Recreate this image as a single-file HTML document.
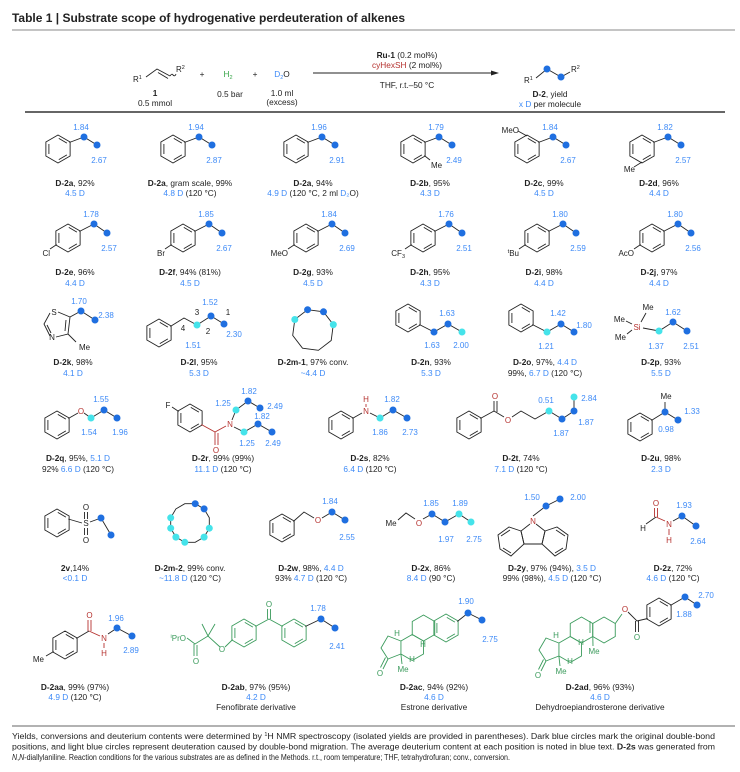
<!DOCTYPE html>
<html><head><meta charset="utf-8"><style>
html,body{margin:0;padding:0;background:#fff}
svg{display:block}
text{font-family:"Liberation Sans",Arial,sans-serif;font-size:8px;fill:#222}
.lb{text-anchor:middle;font-size:8.3px}
.bl{fill:#3d8af7}
.n{fill:#3d8af7;font-size:8px;text-anchor:middle}
.k{fill:#222}
.r{fill:#b5322f}
.g{fill:#3b9b5c}
.s{stroke:#222;stroke-width:.9;fill:none}
.sr{stroke:#b5322f;stroke-width:.9;fill:none}
.sg{stroke:#3b9b5c;stroke-width:.9;fill:none}
.d{fill:#1f6fe0}
.c{fill:#45e3ea}
</style></head><body>
<svg width="740" height="772" viewBox="0 0 740 772" xmlns="http://www.w3.org/2000/svg">
<defs>
<g id="bz" stroke="currentColor" stroke-width=".9" fill="none">
<polygon points="0,-14 12.12,-7 12.12,7 0,14 -12.12,7 -12.12,-7"/>
<line x1="0.8" y1="-10.6" x2="8.9" y2="-5.9"/><line x1="8.9" y1="5.9" x2="0.8" y2="10.6"/><line x1="-9.1" y1="5" x2="-9.1" y2="-5"/>
</g>
<g id="hx" stroke="currentColor" stroke-width=".9" fill="none">
<polygon points="0,-13 11.26,-6.5 11.26,6.5 0,13 -11.26,6.5 -11.26,-6.5"/>
</g>
</defs>

<!-- Title -->
<text x="12" y="22" style="font-size:11.5px;font-weight:bold" textLength="393" lengthAdjust="spacingAndGlyphs">Table 1 | Substrate scope of hydrogenative perdeuteration of alkenes</text>
<line x1="12" y1="30" x2="735" y2="30" stroke="#888" stroke-width="1"/>

<!-- Reaction -->
<text x="133" y="82">R<tspan dy="-3" font-size="5.5">1</tspan></text>
<polyline class="s" points="146,77 157,69 170,76"/>
<line class="s" x1="158" y1="72.5" x2="168" y2="78.5"/>
<path class="s" d="M170,76 q2,-3 3,-1 q2,2 3,-1"/>
<text x="176" y="72">R<tspan dy="-3" font-size="5.5">2</tspan></text>
<text x="155" y="96" class="lb" style="font-weight:bold">1</text>
<text x="155" y="106" class="lb">0.5 mmol</text>
<text x="202" y="77" class="lb">+</text>
<text x="228" y="77" class="lb" style="fill:#3aa64a">H<tspan dy="2" font-size="5.5">2</tspan></text>
<text x="230" y="97" class="lb">0.5 bar</text>
<text x="255" y="77" class="lb">+</text>
<text x="282" y="77" class="lb"><tspan class="bl">D<tspan dy="2" font-size="5.5">2</tspan></tspan><tspan dy="-2">O</tspan></text>
<text x="282" y="96" class="lb">1.0 ml</text>
<text x="282" y="105" class="lb">(excess)</text>
<line x1="313" y1="73" x2="494" y2="73" stroke="#222" stroke-width="1"/>
<polygon points="499,73 491,70.5 491,75.5" fill="#222"/>
<text x="407" y="58" class="lb"><tspan style="font-weight:bold">Ru-1</tspan> (0.2 mol%)</text>
<text x="407" y="68" class="lb"><tspan class="r">cyHexSH</tspan> (2 mol%)</text>
<text x="407" y="88" class="lb">THF, r.t.–50 °C</text>
<text x="524" y="83">R<tspan dy="-3" font-size="5.5">1</tspan></text>
<polyline class="s" points="536,78 547,69 561,77 570,72"/>
<circle class="d" cx="547" cy="69" r="3.5"/><circle class="d" cx="561" cy="77" r="3.5"/>
<text x="571" y="72">R<tspan dy="-3" font-size="5.5">2</tspan></text>
<text x="550" y="97" class="lb"><tspan style="font-weight:bold">D-2</tspan>, yield</text>
<text x="550" y="107" class="lb"><tspan class="bl">x D</tspan> per molecule</text>
<line x1="25" y1="112" x2="725" y2="112" stroke="#333" stroke-width="1.5"/>

<!-- Row 1 -->
<g color="#222">
<use href="#bz" x="58" y="149"/><use href="#bz" x="173" y="149"/><use href="#bz" x="296" y="149"/>
<use href="#bz" x="413" y="149"/><use href="#bz" x="527" y="149"/><use href="#bz" x="642" y="149"/>
</g>
<g class="s">
<polyline points="69.3,142.5 84,137 97,145"/><polyline points="184.3,142.5 199,137 212,145"/>
<polyline points="307.3,142.5 322,137 335,145"/><polyline points="424.3,142.5 439,137 452,145"/>
<polyline points="538.3,142.5 553,137 566,145"/><polyline points="653.3,142.5 668,137 681,145"/>
<line x1="424.3" y1="155.5" x2="430" y2="160"/>
<line x1="527" y1="136" x2="518" y2="131"/>
<line x1="642" y1="162" x2="634" y2="167"/>
</g>
<text x="431" y="168" font-size="7.5">Me</text>
<text x="519" y="133" text-anchor="end" font-size="7.5">MeO</text>
<text x="635" y="172" text-anchor="end" font-size="7.5">Me</text>
<g>
<circle class="d" cx="84" cy="137" r="3.5"/><circle class="d" cx="97" cy="145" r="3.5"/>
<circle class="d" cx="199" cy="137" r="3.5"/><circle class="d" cx="212" cy="145" r="3.5"/>
<circle class="d" cx="322" cy="137" r="3.5"/><circle class="d" cx="335" cy="145" r="3.5"/>
<circle class="d" cx="439" cy="137" r="3.5"/><circle class="d" cx="452" cy="145" r="3.5"/>
<circle class="d" cx="553" cy="137" r="3.5"/><circle class="d" cx="566" cy="145" r="3.5"/>
<circle class="d" cx="668" cy="137" r="3.5"/><circle class="d" cx="681" cy="145" r="3.5"/>
</g>
<text class="n" x="81" y="130">1.84</text><text class="n" x="99" y="163">2.67</text>
<text class="n" x="196" y="130">1.94</text><text class="n" x="214" y="163">2.87</text>
<text class="n" x="319" y="130">1.96</text><text class="n" x="337" y="163">2.91</text>
<text class="n" x="436" y="130">1.79</text><text class="n" x="454" y="163">2.49</text>
<text class="n" x="550" y="130">1.84</text><text class="n" x="568" y="163">2.67</text>
<text class="n" x="665" y="130">1.82</text><text class="n" x="683" y="163">2.57</text>

<text class="lb" x="75" y="186"><tspan font-weight="bold">D-2a</tspan>, 92%</text><text class="lb bl" x="75" y="196">4.5 D</text>
<text class="lb" x="190" y="186"><tspan font-weight="bold">D-2a</tspan>, gram scale, 99%</text><text class="lb" x="190" y="196"><tspan class="bl">4.8 D</tspan> (120 °C)</text>
<text class="lb" x="313" y="186"><tspan font-weight="bold">D-2a</tspan>, 94%</text><text class="lb" x="313" y="196"><tspan class="bl">4.9 D</tspan> (120 °C, 2 ml <tspan class="bl">D₂</tspan>O)</text>
<text class="lb" x="430" y="186"><tspan font-weight="bold">D-2b</tspan>, 95%</text><text class="lb bl" x="430" y="196">4.3 D</text>
<text class="lb" x="544" y="186"><tspan font-weight="bold">D-2c</tspan>, 99%</text><text class="lb bl" x="544" y="196">4.5 D</text>
<text class="lb" x="659" y="186"><tspan font-weight="bold">D-2d</tspan>, 96%</text><text class="lb bl" x="659" y="196">4.4 D</text>

<!-- Row 2 -->
<g color="#222">
<use href="#bz" x="68" y="238"/><use href="#bz" x="183" y="238"/><use href="#bz" x="306" y="238"/>
<use href="#bz" x="423" y="238"/><use href="#bz" x="537" y="238"/><use href="#bz" x="652" y="238"/>
</g>
<g class="s">
<polyline points="79.3,231.5 94,224 107,233"/><polyline points="194.3,231.5 209,224 222,233"/>
<polyline points="317.3,231.5 332,224 345,233"/><polyline points="434.3,231.5 449,224 462,233"/>
<polyline points="548.3,231.5 563,224 576,233"/><polyline points="663.3,231.5 678,224 691,233"/>
<line x1="56.7" y1="244.5" x2="50" y2="249"/><line x1="171.7" y1="244.5" x2="165" y2="249"/>
<line x1="294.7" y1="244.5" x2="288" y2="249"/><line x1="411.7" y1="244.5" x2="405" y2="249"/>
<line x1="525.7" y1="244.5" x2="519" y2="249"/><line x1="640.7" y1="244.5" x2="634" y2="249"/>
</g>
<text x="50" y="256" text-anchor="end" font-size="7.5">Cl</text>
<text x="165" y="256" text-anchor="end" font-size="7.5">Br</text>
<text x="288" y="256" text-anchor="end" font-size="7.5">MeO</text>
<text x="405" y="256" text-anchor="end" font-size="7.5">CF<tspan dy="2" font-size="5.5">3</tspan></text>
<text x="519" y="256" text-anchor="end" font-size="7.5"><tspan dy="-3" font-size="5.5">t</tspan><tspan dy="3">Bu</tspan></text>
<text x="634" y="256" text-anchor="end" font-size="7.5">AcO</text>
<g>
<circle class="d" cx="94" cy="224" r="3.5"/><circle class="d" cx="107" cy="233" r="3.5"/>
<circle class="d" cx="209" cy="224" r="3.5"/><circle class="d" cx="222" cy="233" r="3.5"/>
<circle class="d" cx="332" cy="224" r="3.5"/><circle class="d" cx="345" cy="233" r="3.5"/>
<circle class="d" cx="449" cy="224" r="3.5"/><circle class="d" cx="462" cy="233" r="3.5"/>
<circle class="d" cx="563" cy="224" r="3.5"/><circle class="d" cx="576" cy="233" r="3.5"/>
<circle class="d" cx="678" cy="224" r="3.5"/><circle class="d" cx="691" cy="233" r="3.5"/>
</g>
<text class="n" x="91" y="217">1.78</text><text class="n" x="109" y="251">2.57</text>
<text class="n" x="206" y="217">1.85</text><text class="n" x="224" y="251">2.67</text>
<text class="n" x="329" y="217">1.84</text><text class="n" x="347" y="251">2.69</text>
<text class="n" x="446" y="217">1.76</text><text class="n" x="464" y="251">2.51</text>
<text class="n" x="560" y="217">1.80</text><text class="n" x="578" y="251">2.59</text>
<text class="n" x="675" y="217">1.80</text><text class="n" x="693" y="251">2.56</text>

<text class="lb" x="75" y="275"><tspan font-weight="bold">D-2e</tspan>, 96%</text><text class="lb bl" x="75" y="286">4.4 D</text>
<text class="lb" x="190" y="275"><tspan font-weight="bold">D-2f</tspan>, 94% (81%)</text><text class="lb bl" x="190" y="286">4.5 D</text>
<text class="lb" x="313" y="275"><tspan font-weight="bold">D-2g</tspan>, 93%</text><text class="lb bl" x="313" y="286">4.5 D</text>
<text class="lb" x="430" y="275"><tspan font-weight="bold">D-2h</tspan>, 95%</text><text class="lb bl" x="430" y="286">4.3 D</text>
<text class="lb" x="544" y="275"><tspan font-weight="bold">D-2i</tspan>, 98%</text><text class="lb bl" x="544" y="286">4.4 D</text>
<text class="lb" x="659" y="275"><tspan font-weight="bold">D-2j</tspan>, 97%</text><text class="lb bl" x="659" y="286">4.4 D</text>

<!-- Row 3 -->
<g class="s">
<polyline points="58,312 70,317 68,334 56,337"/>
<polyline points="50,336 44,324 50,313"/>
<line x1="66" y1="320" x2="65" y2="331"/>
<line x1="47" y1="325" x2="51" y2="333"/>
<line x1="68" y1="334" x2="76" y2="342"/>
<polyline points="70,317 81,311 95,320"/>
</g>
<text x="54" y="315" text-anchor="middle" font-size="7.5">S</text>
<text x="52" y="340" text-anchor="middle" font-size="7.5">N</text>
<text x="79" y="350" font-size="7.5">Me</text>
<circle class="d" cx="81" cy="311" r="3.5"/><circle class="d" cx="95" cy="320" r="3.5"/>
<text class="n" x="79" y="304">1.70</text><text class="n" x="106" y="318">2.38</text>
<use href="#bz" x="159" y="333" color="#222"/>
<polyline class="s" points="170.3,326.5 184,318 197,325 211,316 224,324"/>
<circle class="c" cx="197" cy="325" r="3.5"/><circle class="d" cx="211" cy="316" r="3.5"/><circle class="d" cx="224" cy="324" r="3.5"/>
<text x="183" y="331" text-anchor="middle" font-size="7.5">4</text>
<text x="197" y="315" text-anchor="middle" font-size="7.5">3</text>
<text x="208" y="334" text-anchor="middle" font-size="7.5">2</text>
<text x="228" y="315" text-anchor="middle" font-size="7.5">1</text>
<text class="n" x="210" y="305">1.52</text><text class="n" x="193" y="348">1.51</text><text class="n" x="234" y="337">2.30</text>
<polygon class="s" points="294.8,319.5 307.6,309.7 323.5,311.8 333.3,324.6 331.2,340.5 318.4,350.3 302.5,348.2 292.7,335.4"/>
<circle class="c" cx="294.8" cy="319.5" r="3.5"/><circle class="d" cx="307.6" cy="309.7" r="3.5"/><circle class="d" cx="323.5" cy="311.8" r="3.5"/><circle class="c" cx="333.3" cy="324.6" r="3.5"/>
<use href="#bz" x="408" y="318" color="#222"/>
<polyline class="s" points="419.3,324.5 434,332 448,324 462,332"/>
<circle class="d" cx="434" cy="332" r="3.5"/><circle class="d" cx="448" cy="324" r="3.5"/><circle class="c" cx="462" cy="332" r="3.5"/>
<text class="n" x="447" y="316">1.63</text><text class="n" x="432" y="348">1.63</text><text class="n" x="461" y="348">2.00</text>
<use href="#bz" x="521" y="318" color="#222"/>
<polyline class="s" points="532.3,324.5 547,332 561,324 574,332"/>
<circle class="c" cx="547" cy="332" r="3.5"/><circle class="d" cx="561" cy="324" r="3.5"/><circle class="d" cx="574" cy="332" r="3.5"/>
<text class="n" x="558" y="316">1.42</text><text class="n" x="584" y="328">1.80</text><text class="n" x="546" y="349">1.21</text>
<g class="s"><line x1="641" y1="322" x2="646" y2="313"/><line x1="632" y1="324" x2="626" y2="321"/><line x1="632" y1="330" x2="627" y2="334"/>
<polyline points="643,328 659,331 673,322 687,331"/></g>
<text x="637" y="330" text-anchor="middle" class="r" font-size="7.5">Si</text>
<text x="648" y="310" text-anchor="middle" font-size="7.5">Me</text>
<text x="625" y="322" text-anchor="end" font-size="7.5">Me</text>
<text x="626" y="340" text-anchor="end" font-size="7.5">Me</text>
<circle class="c" cx="659" cy="331" r="3.5"/><circle class="d" cx="673" cy="322" r="3.5"/><circle class="d" cx="687" cy="331" r="3.5"/>
<text class="n" x="673" y="315">1.62</text><text class="n" x="656" y="349">1.37</text><text class="n" x="691" y="349">2.51</text>

<text class="lb" x="73" y="365"><tspan font-weight="bold">D-2k</tspan>, 98%</text><text class="lb bl" x="73" y="376">4.1 D</text>
<text class="lb" x="199" y="365"><tspan font-weight="bold">D-2l</tspan>, 95%</text><text class="lb bl" x="199" y="376">5.3 D</text>
<text class="lb" x="313" y="365"><tspan font-weight="bold">D-2m-1</tspan>, 97% conv.</text><text class="lb bl" x="313" y="376">~4.4 D</text>
<text class="lb" x="431" y="365"><tspan font-weight="bold">D-2n</tspan>, 93%</text><text class="lb bl" x="431" y="376">5.3 D</text>
<text class="lb" x="545" y="365"><tspan font-weight="bold">D-2o</tspan>, 97%, <tspan class="bl">4.4 D</tspan></text><text class="lb" x="545" y="376">99%, <tspan class="bl">6.7 D</tspan> (120 °C)</text>
<text class="lb" x="661" y="365"><tspan font-weight="bold">D-2p</tspan>, 93%</text><text class="lb bl" x="661" y="376">5.5 D</text>

<!-- Row 4 -->
<use href="#bz" x="57" y="425" color="#222"/>
<polyline class="s" points="68.3,418.5 78,413"/><polyline class="s" points="84,413 91,418 104,410 117,418"/>
<text x="81" y="414" text-anchor="middle" class="r" font-size="7.5">O</text>
<circle class="c" cx="91" cy="418" r="3.5"/><circle class="d" cx="104" cy="410" r="3.5"/><circle class="d" cx="117" cy="418" r="3.5"/>
<text class="n" x="101" y="402">1.55</text><text class="n" x="89" y="435">1.54</text><text class="n" x="120" y="435">1.96</text>
<use href="#bz" x="190" y="418" color="#222"/>
<line class="s" x1="178.7" y1="411.5" x2="172" y2="407"/>
<text x="168" y="408" text-anchor="middle" font-size="7.5">F</text>
<polyline class="sr" points="201.3,424.5 215,432 226,426"/>
<line class="sr" x1="215" y1="432" x2="215" y2="445"/><line class="sr" x1="218" y1="433" x2="218" y2="445"/>
<text x="216" y="453" text-anchor="middle" class="r" font-size="7.5">O</text>
<text x="230" y="427" text-anchor="middle" class="r" font-size="7.5">N</text>
<polyline class="s" points="232,420 236,410 248,401 260,408"/>
<polyline class="s" points="234,427 244,432 258,424 272,432"/>
<circle class="c" cx="236" cy="410" r="3.5"/><circle class="d" cx="248" cy="401" r="3.5"/><circle class="d" cx="260" cy="408" r="3.5"/>
<circle class="c" cx="244" cy="432" r="3.5"/><circle class="d" cx="258" cy="424" r="3.5"/><circle class="d" cx="272" cy="432" r="3.5"/>
<text class="n" x="249" y="394">1.82</text><text class="n" x="223" y="406">1.25</text><text class="n" x="275" y="409">2.49</text>
<text class="n" x="262" y="419">1.82</text><text class="n" x="247" y="446">1.25</text><text class="n" x="273" y="446">2.49</text>
<use href="#bz" x="341" y="425" color="#222"/>
<line class="s" x1="352.3" y1="418.5" x2="362" y2="413"/>
<text x="366" y="414" text-anchor="middle" class="r" font-size="7.5">N</text>
<text x="366" y="402" text-anchor="middle" class="r" font-size="7.5">H</text>
<line class="sr" x1="366" y1="404" x2="366" y2="407"/>
<polyline class="s" points="370,413 380,418 393,410 407,418"/>
<circle class="c" cx="380" cy="418" r="3.5"/><circle class="d" cx="393" cy="410" r="3.5"/><circle class="d" cx="407" cy="418" r="3.5"/>
<text class="n" x="392" y="402">1.82</text><text class="n" x="380" y="435">1.86</text><text class="n" x="410" y="435">2.73</text>
<use href="#bz" x="469" y="425" color="#222"/>
<polyline class="s" points="480.3,418.5 494,411 504,417"/>
<line class="s" x1="494" y1="411" x2="494" y2="401"/><line class="s" x1="497" y1="412" x2="497" y2="401"/>
<text x="495" y="399" text-anchor="middle" class="r" font-size="7.5">O</text>
<text x="508" y="423" text-anchor="middle" class="r" font-size="7.5">O</text>
<polyline class="s" points="512,417 521,411 535,419 549,411 562,419 574,411 574,397"/>
<circle class="c" cx="549" cy="411" r="3.5"/><circle class="d" cx="562" cy="419" r="3.5"/><circle class="d" cx="574" cy="411" r="3.5"/><circle class="c" cx="574" cy="397" r="3.5"/>
<text class="n" x="546" y="403">0.51</text><text class="n" x="589" y="401">2.84</text><text class="n" x="586" y="425">1.87</text><text class="n" x="561" y="436">1.87</text>
<use href="#bz" x="640" y="427" color="#222"/>
<polyline class="s" points="651.3,420.5 665,412 678,420"/>
<line class="s" x1="665" y1="412" x2="665" y2="402"/>
<text x="666" y="399" text-anchor="middle" font-size="7.5">Me</text>
<circle class="d" cx="665" cy="412" r="3.5"/><circle class="d" cx="678" cy="420" r="3.5"/>
<text class="n" x="692" y="414">1.33</text><text class="n" x="666" y="432">0.98</text>

<text class="lb" x="78" y="461"><tspan font-weight="bold">D-2q</tspan>, 95%, <tspan class="bl">5.1 D</tspan></text><text class="lb" x="78" y="472">92% <tspan class="bl">6.6 D</tspan> (120 °C)</text>
<text class="lb" x="223" y="461"><tspan font-weight="bold">D-2r</tspan>, 99% (99%)</text><text class="lb" x="223" y="472"><tspan class="bl">11.1 D</tspan> (120 °C)</text>
<text class="lb" x="370" y="461"><tspan font-weight="bold">D-2s</tspan>, 82%</text><text class="lb" x="370" y="472"><tspan class="bl">6.4 D</tspan> (120 °C)</text>
<text class="lb" x="521" y="461"><tspan font-weight="bold">D-2t</tspan>, 74%</text><text class="lb" x="521" y="472"><tspan class="bl">7.1 D</tspan> (120 °C)</text>
<text class="lb" x="661" y="461"><tspan font-weight="bold">D-2u</tspan>, 98%</text><text class="lb bl" x="661" y="472">2.3 D</text>

<!-- Row 5 -->
<use href="#bz" x="57" y="523" color="#222"/>
<line class="s" x1="68.3" y1="519" x2="82" y2="523"/>
<text x="86" y="526" text-anchor="middle" font-size="7.5">S</text>
<line class="s" x1="84.5" y1="519" x2="84.5" y2="512"/><line class="s" x1="87.5" y1="519" x2="87.5" y2="512"/>
<line class="s" x1="84.5" y1="528" x2="84.5" y2="535"/><line class="s" x1="87.5" y1="528" x2="87.5" y2="535"/>
<text x="86" y="510" text-anchor="middle" font-size="7.5">O</text>
<text x="86" y="543" text-anchor="middle" font-size="7.5">O</text>
<polyline class="s" points="90,522 101,518 111,535"/>
<circle class="d" cx="101" cy="518" r="3.5"/><circle class="d" cx="111" cy="535" r="3.5"/>
<polygon class="s" points="195.2,503.7 204.1,508.9 209.3,517.8 209.3,528.2 204.1,537.1 195.2,542.3 184.8,542.3 175.9,537.1 170.7,528.2 170.7,517.8 175.9,508.9 184.8,503.7"/>
<circle class="d" cx="195.2" cy="503.7" r="3.5"/><circle class="d" cx="204.1" cy="508.9" r="3.5"/>
<circle class="c" cx="209.3" cy="528.2" r="3.5"/><circle class="c" cx="204.1" cy="537.1" r="3.5"/>
<circle class="c" cx="184.8" cy="542.3" r="3.5"/><circle class="c" cx="175.9" cy="537.1" r="3.5"/>
<circle class="c" cx="170.7" cy="528.2" r="3.5"/><circle class="c" cx="170.7" cy="517.8" r="3.5"/>
<use href="#bz" x="282" y="528" color="#222"/>
<polyline class="s" points="293.3,521.5 304,512 314,518"/>
<text x="318" y="523" text-anchor="middle" class="r" font-size="7.5">O</text>
<polyline class="s" points="322,518 332,512 345,520"/>
<circle class="d" cx="332" cy="512" r="3.5"/><circle class="d" cx="345" cy="520" r="3.5"/>
<text class="n" x="330" y="504">1.84</text><text class="n" x="347" y="540">2.55</text>
<text x="391" y="526" text-anchor="middle" font-size="7.5">Me</text>
<polyline class="s" points="398,520 406,513 415,519"/>
<text x="419" y="526" text-anchor="middle" class="r" font-size="7.5">O</text>
<polyline class="s" points="423,519 432,514 445,522 459,514 471,522"/>
<circle class="d" cx="432" cy="514" r="3.5"/><circle class="d" cx="445" cy="522" r="3.5"/><circle class="c" cx="459" cy="514" r="3.5"/><circle class="c" cx="471" cy="522" r="3.5"/>
<text class="n" x="431" y="506">1.85</text><text class="n" x="460" y="506">1.89</text><text class="n" x="446" y="542">1.97</text><text class="n" x="474" y="542">2.75</text>
<g class="s">
<polyline points="536,524 545,531 542,544"/><polyline points="530,524 521,531 524,544"/>
<line x1="524" y1="544" x2="542" y2="544"/>
<polygon points="521,531 509,527 498,535 500,549 511,556 524,544"/>
<polygon points="545,531 557,527 568,535 566,549 555,556 542,544"/>
<line x1="510" y1="530" x2="501" y2="536"/><line x1="503" y1="548" x2="511" y2="553"/>
<line x1="556" y1="530" x2="565" y2="536"/><line x1="563" y1="548" x2="555" y2="553"/>
<polyline points="533,516 546,506 560,499"/>
</g>
<text x="533" y="524" text-anchor="middle" class="r" font-size="7.5">N</text>
<circle class="d" cx="546" cy="506" r="3.5"/><circle class="d" cx="560" cy="499" r="3.5"/>
<text class="n" x="532" y="500">1.50</text><text class="n" x="578" y="500">2.00</text>
<text x="656" y="506" text-anchor="middle" class="r" font-size="7.5">O</text>
<line class="sr" x1="654.5" y1="508" x2="654.5" y2="517"/><line class="sr" x1="657.5" y1="508" x2="657.5" y2="517"/>
<line class="s" x1="656" y1="517" x2="646" y2="524"/>
<text x="643" y="531" text-anchor="middle" font-size="7.5">H</text>
<line class="sr" x1="656" y1="517" x2="665" y2="521"/>
<text x="669" y="527" text-anchor="middle" class="r" font-size="7.5">N</text>
<line class="sr" x1="669" y1="529" x2="669" y2="535"/>
<text x="669" y="543" text-anchor="middle" class="r" font-size="7.5">H</text>
<polyline class="s" points="673,521 682,516 696,526"/>
<circle class="d" cx="682" cy="516" r="3.5"/><circle class="d" cx="696" cy="526" r="3.5"/>
<text class="n" x="684" y="508">1.93</text><text class="n" x="698" y="544">2.64</text>

<text class="lb" x="75" y="571"><tspan font-weight="bold">2v</tspan>,14%</text><text class="lb bl" x="75" y="581">&lt;0.1 D</text>
<text class="lb" x="190" y="571"><tspan font-weight="bold">D-2m-2</tspan>, 99% conv.</text><text class="lb" x="190" y="581"><tspan class="bl">~11.8 D</tspan> (120 °C)</text>
<text class="lb" x="311" y="571"><tspan font-weight="bold">D-2w</tspan>, 98%, <tspan class="bl">4.4 D</tspan></text><text class="lb" x="311" y="581">93% <tspan class="bl">4.7 D</tspan> (120 °C)</text>
<text class="lb" x="431" y="571"><tspan font-weight="bold">D-2x</tspan>, 86%</text><text class="lb" x="431" y="581"><tspan class="bl">8.4 D</tspan> (90 °C)</text>
<text class="lb" x="552" y="571"><tspan font-weight="bold">D-2y</tspan>, 97% (94%), <tspan class="bl">3.5 D</tspan></text><text class="lb" x="552" y="581">99% (98%), <tspan class="bl">4.5 D</tspan> (120 °C)</text>
<text class="lb" x="673" y="571"><tspan font-weight="bold">D-2z</tspan>, 72%</text><text class="lb" x="673" y="581"><tspan class="bl">4.6 D</tspan> (120 °C)</text>

<!-- Row 6 -->
<use href="#bz" x="65" y="645" color="#222"/>
<line class="s" x1="53.7" y1="651.5" x2="46" y2="656"/>
<text x="44" y="662" text-anchor="end" font-size="7.5">Me</text>
<line class="s" x1="76.3" y1="638.5" x2="89" y2="631"/>
<line class="sr" x1="88" y1="631" x2="88" y2="620"/><line class="sr" x1="91" y1="631" x2="91" y2="620"/>
<text x="89.5" y="618" text-anchor="middle" class="r" font-size="7.5">O</text>
<line class="sr" x1="89" y1="631" x2="100" y2="636"/>
<text x="104" y="641" text-anchor="middle" class="r" font-size="7.5">N</text>
<line class="sr" x1="104" y1="643" x2="104" y2="648"/>
<text x="104" y="656" text-anchor="middle" class="r" font-size="7.5">H</text>
<polyline class="s" points="108,634 117,628 132,636"/>
<circle class="d" cx="117" cy="628" r="3.5"/><circle class="d" cx="132" cy="636" r="3.5"/>
<text class="n" x="116" y="621">1.96</text><text class="n" x="131" y="653">2.89</text>
<text x="186" y="641" text-anchor="end" class="g" font-size="7.5"><tspan dy="-3" font-size="5.5">i</tspan><tspan dy="3">PrO</tspan></text>
<g class="sg">
<polyline points="187,638 195,644 208,636 220,647"/>
<line x1="194" y1="644" x2="194" y2="656"/><line x1="197" y1="645" x2="197" y2="656"/>
<line x1="208" y1="636" x2="202" y2="624"/><line x1="208" y1="636" x2="215" y2="624"/>
<line x1="225" y1="647" x2="232.7" y2="639.5"/>
<polyline points="255.3,626.5 269,619 282.7,626.5"/>
<line x1="267.5" y1="619" x2="267.5" y2="609"/><line x1="270.5" y1="619" x2="270.5" y2="609"/>
</g>
<text x="196" y="664" text-anchor="middle" class="g" font-size="7.5">O</text>
<text x="222" y="652" text-anchor="middle" class="g" font-size="7.5">O</text>
<text x="269" y="607" text-anchor="middle" class="g" font-size="7.5">O</text>
<use href="#bz" x="244" y="633" color="#3b9b5c"/>
<use href="#bz" x="294" y="633" color="#3b9b5c"/>
<polyline class="s" points="305.3,626.5 321,619 335,628"/>
<circle class="d" cx="321" cy="619" r="3.5"/><circle class="d" cx="335" cy="628" r="3.5"/>
<text class="n" x="318" y="611">1.78</text><text class="n" x="337" y="649">2.41</text>
<use href="#bz" x="446" y="628" color="#3b9b5c"/>
<use href="#hx" x="423.5" y="628" color="#3b9b5c"/>
<use href="#hx" x="412.2" y="647.5" color="#3b9b5c"/>
<g class="sg">
<polyline points="400.9,641 388,636 381,648 388,659 400.9,654"/>
<line x1="388" y1="659" x2="383" y2="669"/><line x1="385.5" y1="657.5" x2="380.5" y2="667.5"/>
<line x1="400.9" y1="654" x2="402" y2="664"/>
</g>
<text x="380" y="676" text-anchor="middle" class="g" font-size="7.5">O</text>
<text x="403" y="672" text-anchor="middle" class="g" font-size="7">Me</text>
<text x="397" y="636" text-anchor="middle" class="g" font-size="7">H</text>
<text x="423" y="647" text-anchor="middle" class="g" font-size="7">H</text>
<text x="412" y="662" text-anchor="middle" class="g" font-size="7">H</text>
<polyline class="s" points="457.3,621.5 468,613 482,620"/>
<circle class="d" cx="468" cy="613" r="3.5"/><circle class="d" cx="482" cy="620" r="3.5"/>
<text class="n" x="466" y="604">1.90</text><text class="n" x="490" y="642">2.75</text>
<use href="#hx" x="604" y="630" color="#3b9b5c"/>
<use href="#hx" x="581.5" y="630" color="#3b9b5c"/>
<use href="#hx" x="570.2" y="649.5" color="#3b9b5c"/>
<g class="sg">
<line x1="590" y1="621" x2="590" y2="633"/>
<polyline points="558.9,643 546,638 539,650 546,661 558.9,656"/>
<line x1="546" y1="661" x2="541" y2="671"/><line x1="543.5" y1="659.5" x2="538.5" y2="669.5"/>
<line x1="558.9" y1="656" x2="560" y2="666"/>
<line x1="592.8" y1="636.5" x2="593" y2="646"/>
<line x1="615.3" y1="623.5" x2="622" y2="614"/>
</g>
<text x="538" y="678" text-anchor="middle" class="g" font-size="7.5">O</text>
<text x="561" y="674" text-anchor="middle" class="g" font-size="7">Me</text>
<text x="594" y="654" text-anchor="middle" class="g" font-size="7">Me</text>
<text x="556" y="638" text-anchor="middle" class="g" font-size="7">H</text>
<text x="581" y="645" text-anchor="middle" class="g" font-size="7">H</text>
<text x="570" y="664" text-anchor="middle" class="g" font-size="7">H</text>
<text x="625" y="612" text-anchor="middle" class="r" font-size="7.5">O</text>
<g class="s">
<polyline points="628,612 637,621 647.7,618.5"/>
<line x1="635.5" y1="621" x2="635.5" y2="632"/><line x1="638.5" y1="621" x2="638.5" y2="632"/>
<polyline points="670.3,605.5 685,597 697,605"/>
</g>
<text x="637" y="640" text-anchor="middle" class="g" font-size="7.5">O</text>
<use href="#bz" x="659" y="612" color="#222"/>
<circle class="d" cx="685" cy="597" r="3.5"/><circle class="d" cx="697" cy="605" r="3.5"/>
<text class="n" x="706" y="598">2.70</text><text class="n" x="684" y="617">1.88</text>

<text class="lb" x="75" y="690"><tspan font-weight="bold">D-2aa</tspan>, 99% (97%)</text><text class="lb" x="75" y="700"><tspan class="bl">4.9 D</tspan> (120 °C)</text>
<text class="lb" x="256" y="690"><tspan font-weight="bold">D-2ab</tspan>, 97% (95%)</text><text class="lb bl" x="256" y="700">4.2 D</text><text class="lb" x="256" y="710">Fenofibrate derivative</text>
<text class="lb" x="434" y="690"><tspan font-weight="bold">D-2ac</tspan>, 94% (92%)</text><text class="lb bl" x="434" y="700">4.6 D</text><text class="lb" x="434" y="710">Estrone derivative</text>
<text class="lb" x="600" y="690"><tspan font-weight="bold">D-2ad</tspan>, 96% (93%)</text><text class="lb bl" x="600" y="700">4.6 D</text><text class="lb" x="600" y="710">Dehydroepiandrosterone derivative</text>

<!-- Footer -->
<line x1="12" y1="726" x2="735" y2="726" stroke="#999" stroke-width="1.5"/>
<text x="12" y="739" font-size="7.6" textLength="703" lengthAdjust="spacingAndGlyphs">Yields, conversions and deuterium contents were determined by <tspan dy="-3" font-size="5">1</tspan><tspan dy="3">H NMR spectroscopy (isolated yields are provided in parentheses). Dark blue circles mark the original double-bond</tspan></text>
<text x="12" y="749.5" font-size="7.6" textLength="703" lengthAdjust="spacingAndGlyphs">positions, and light blue circles represent deuteration caused by double-bond migration. The average deuterium content at each position is noted in blue text. <tspan font-weight="bold">D-2s</tspan> was generated from</text>
<text x="12" y="760" font-size="7.6" textLength="498" lengthAdjust="spacingAndGlyphs"><tspan font-style="italic">N</tspan>,<tspan font-style="italic">N</tspan>-diallylaniline. Reaction conditions for the various substrates are as defined in the Methods. r.t., room temperature; THF, tetrahydrofuran; conv., conversion.</text>
</svg>
</body></html>
